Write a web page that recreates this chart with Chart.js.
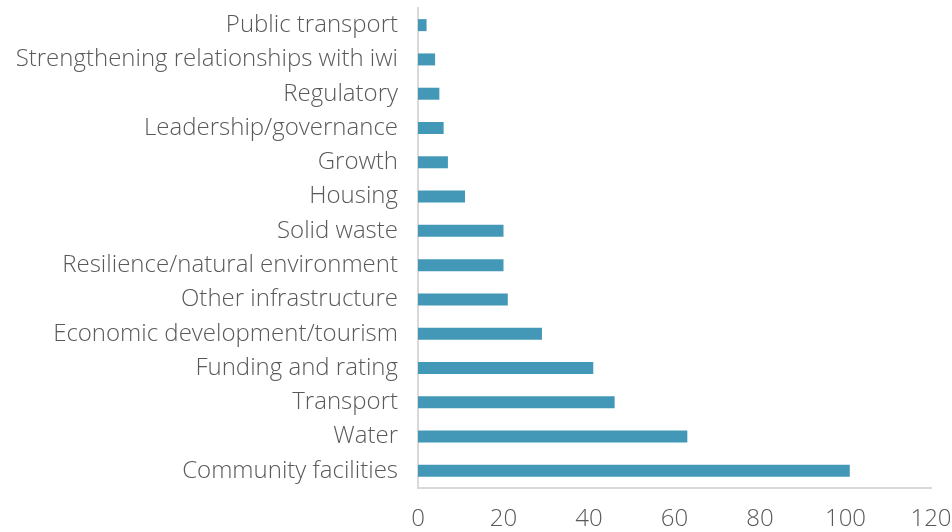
<!DOCTYPE html>
<html>
<head>
<meta charset="utf-8">
<script src="https://cdn.jsdelivr.net/npm/chart.js@4/dist/chart.umd.min.js"></script>
<style>
  html, body { margin: 0; padding: 0; background: #fff; }
  #wrap { width: 952px; height: 532px; position: relative; }
</style>
</head>
<body>
<div id="wrap"><canvas id="chart" width="952" height="532"></canvas></div>
<script>
// ── Data ─────────────────────────────────────────────
const categories = [
    'Public transport',
    'Strengthening relationships with iwi',
    'Regulatory',
    'Leadership/governance',
    'Growth',
    'Housing',
    'Solid waste',
    'Resilience/natural environment',
    'Other infrastructure',
    'Economic development/tourism',
    'Funding and rating',
    'Transport',
    'Water',
    'Community facilities'
];
const counts = [2, 4, 5, 6, 7, 11, 20, 20, 21, 29, 41, 46, 63, 101];
const xTicks = [0, 20, 40, 60, 80, 100, 120];

const FONT = '"Open Sans", Lato, sans-serif';
const TEXT = '#595959';
const AXIS = '#d9d9d9';

// ── Horizontal bar chart ─────────────────────────────
new Chart(document.getElementById('chart'), {
    type: 'bar',
    data: {
        labels: categories,
        datasets: [{
            data: counts,
            backgroundColor: '#4398b7',
            borderWidth: 0,
            barPercentage: 0.7,
            categoryPercentage: 0.5
        }]
    },
    options: {
        indexAxis: 'y',
        responsive: false,
        animation: false,
        layout: { padding: { top: 8, right: 0, bottom: 0, left: 0 } },
        plugins: { legend: { display: false }, tooltip: { enabled: false } },
        scales: {
            x: {
                min: 0,
                max: 120,
                afterBuildTicks: s => { s.ticks = xTicks.map(v => ({ value: v })); },
                grid: { display: false, drawTicks: false },
                border: { display: true, color: AXIS, width: 2 },
                ticks: { color: TEXT, font: { family: FONT, size: 24, weight: 300 }, padding: 17 },
                afterFit: s => { s.height = 44; s.paddingRight = 21; s.paddingLeft = 0; }
            },
            y: {
                grid: { display: false, drawTicks: false },
                border: { display: true, color: AXIS, width: 2 },
                ticks: { color: TEXT, font: { family: FONT, size: 24, weight: 300 }, padding: 20, autoSkip: false },
                afterFit: s => { s.width = 418; s.paddingTop = 0; s.paddingBottom = 0; }
            }
        }
    }
});
</script>
</body>
</html>
